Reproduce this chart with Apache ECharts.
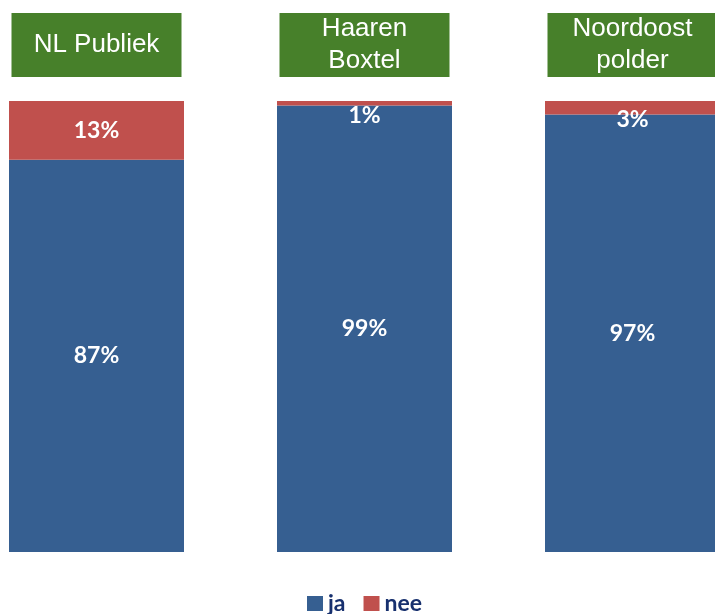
<!DOCTYPE html>
<html>
<head>
<meta charset="utf-8">
<script src="https://cdn.jsdelivr.net/npm/echarts@6/dist/echarts.min.js"></script>
<style>
html,body{margin:0;padding:0;background:#fff;}
#chart{width:715px;height:614px;}
</style>
</head>
<body>
<div id="chart"></div>
<script>
const categories = ['NL Publiek', 'Haaren\nBoxtel', 'Noordoost\npolder'];
const seriesNames = ['ja', 'nee'];
const jaValues = [87, 99, 97];
const neeValues = [13, 1, 3];

const BLUE = '#365F91';
const RED = '#C0504D';
const GREEN = '#47802A';

const chart = echarts.init(document.getElementById('chart'), null, {renderer: 'canvas'});

const pctLabel = {
  show: true,
  color: '#ffffff',
  fontFamily: 'Lato',
  fontWeight: 'bold',
  fontSize: 23,
  formatter: p => p.value + '%'
};

const neeData = neeValues.map(v => {
  if (v < 5) {
    return {value: v, label: {offset: [0, 12]}};
  }
  return {value: v};
});

chart.setOption({
  animation: false,
  backgroundColor: '#ffffff',
  grid: {left: -37.5, width: 804, top: 101, height: 451, outerBoundsMode: 'none', containLabel: false},
  xAxis: {
    type: 'category',
    position: 'top',
    data: categories,
    axisLine: {show: false},
    axisTick: {show: false},
    splitLine: {show: false},
    axisLabel: {
      interval: 0,
      margin: 24,
      width: 170,
      overflow: 'none',
      align: 'center',
      backgroundColor: GREEN,
      color: '#ffffff',
      fontFamily: 'Liberation Sans',
      fontSize: 26,
      formatter: v => {
        const lines = v.split('\n');
        if (lines.length === 1) return '{one|' + v + '}';
        return lines.map(l => '{two|' + l + '}').join('\n');
      },
      rich: {
        one: {lineHeight: 64, fontSize: 26, color: '#ffffff', fontFamily: 'Liberation Sans'},
        two: {lineHeight: 32, fontSize: 26, color: '#ffffff', fontFamily: 'Liberation Sans'}
      }
    }
  },
  yAxis: {
    type: 'value',
    min: 0,
    max: 100,
    show: false,
    splitLine: {show: false}
  },
  legend: {
    data: seriesNames,
    left: 307,
    top: 592,
    padding: 0,
    icon: 'rect',
    itemWidth: 16,
    itemHeight: 15,
    itemGap: 18,
    textStyle: {
      fontFamily: 'Lato',
      fontWeight: 'bold',
      fontSize: 23,
      color: '#17306E'
    }
  },
  series: [
    {
      name: seriesNames[0],
      type: 'bar',
      stack: 'total',
      barWidth: 175,
      data: jaValues,
      itemStyle: {color: BLUE},
      label: Object.assign({position: 'inside'}, pctLabel)
    },
    {
      name: seriesNames[1],
      type: 'bar',
      stack: 'total',
      barWidth: 175,
      data: neeData,
      itemStyle: {color: RED},
      label: Object.assign({position: 'inside'}, pctLabel)
    }
  ]
});
</script>
</body>
</html>
